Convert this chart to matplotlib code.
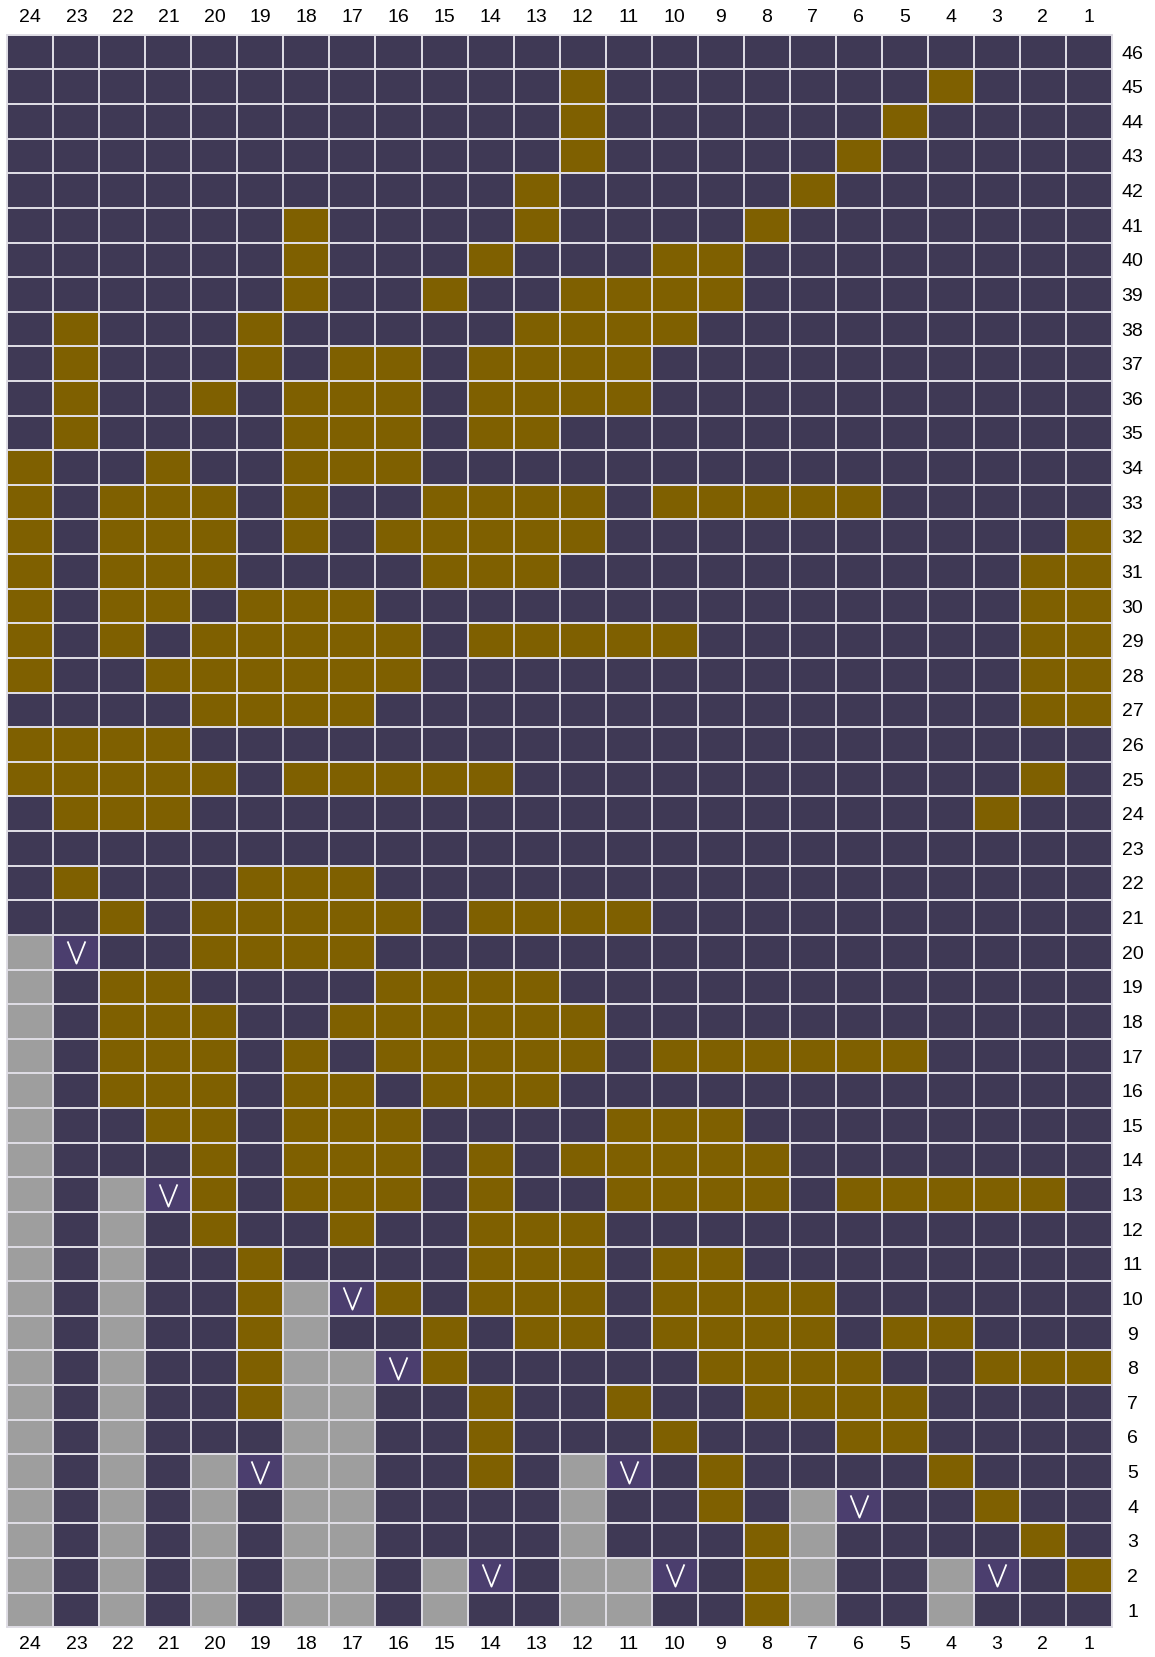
#!/usr/bin/env python3
"""Colourwork knitting chart: 24 stitches x 46 rows, gold motif on purple,
grey 'no stitch' columns with slip-stitch (V) markers."""

import numpy as np
import matplotlib

matplotlib.use('Agg')
import matplotlib.pyplot as plt
from matplotlib.colors import ListedColormap

N_COLS = 24
N_ROWS = 46
COLS = list(range(1, N_COLS + 1))
ROWS = list(range(1, N_ROWS + 1))

# gold (contrast) stitches per row, by stitch number
GOLD = {
    45: [12, 4], 44: [12, 5], 43: [12, 6], 42: [13, 7], 41: [18, 13, 8],
    40: [18, 14, 10, 9],
    39: [18, 15, 12, 11, 10, 9],
    38: [23, 19, 13, 12, 11, 10],
    37: [23, 19, 17, 16, 14, 13, 12, 11],
    36: [23, 20, 18, 17, 16, 14, 13, 12, 11],
    35: [23, 18, 17, 16, 14, 13],
    34: [24, 21, 18, 17, 16],
    33: [24, 22, 21, 20, 18, 15, 14, 13, 12, 10, 9, 8, 7, 6],
    32: [24, 22, 21, 20, 18, 16, 15, 14, 13, 12, 1],
    31: [24, 22, 21, 20, 15, 14, 13, 2, 1],
    30: [24, 22, 21, 19, 18, 17, 2, 1],
    29: [24, 22, 20, 19, 18, 17, 16, 14, 13, 12, 11, 10, 2, 1],
    28: [24, 21, 20, 19, 18, 17, 16, 2, 1],
    27: [20, 19, 18, 17, 2, 1],
    26: [24, 23, 22, 21],
    25: [24, 23, 22, 21, 20, 18, 17, 16, 15, 14, 2],
    24: [23, 22, 21, 3],
    22: [23, 19, 18, 17],
    21: [22, 20, 19, 18, 17, 16, 14, 13, 12, 11],
    20: [20, 19, 18, 17],
    19: [22, 21, 16, 15, 14, 13],
    18: [22, 21, 20, 17, 16, 15, 14, 13, 12],
    17: [22, 21, 20, 18, 16, 15, 14, 13, 12, 10, 9, 8, 7, 6, 5],
    16: [22, 21, 20, 18, 17, 15, 14, 13],
    15: [21, 20, 18, 17, 16, 11, 10, 9],
    14: [20, 18, 17, 16, 14, 12, 11, 10, 9, 8],
    13: [20, 18, 17, 16, 14, 11, 10, 9, 8, 6, 5, 4, 3, 2],
    12: [20, 17, 14, 13, 12],
    11: [19, 14, 13, 12, 10, 9],
    10: [19, 16, 14, 13, 12, 10, 9, 8, 7],
    9: [19, 15, 13, 12, 10, 9, 8, 7, 5, 4],
    8: [19, 15, 9, 8, 7, 6, 3, 2, 1],
    7: [19, 14, 11, 8, 7, 6, 5],
    6: [14, 10, 6, 5],
    5: [14, 9, 4],
    4: [9, 3],
    3: [8, 2],
    2: [8, 1],
    1: [8],
}

# grey "no stitch" columns: stitch number -> last row that is grey
NO_STITCH_TOP = {24: 20, 22: 13, 20: 5, 18: 10, 17: 8, 15: 2, 12: 5, 11: 2, 7: 4, 4: 2}

# slip stitches (stitch, row)
SLIP = [(23, 20), (21, 13), (17, 10), (16, 8), (19, 5), (11, 5), (6, 4), (14, 2), (10, 2), (3, 2)]

DARK, GOLDC, GREY, SLIPC = '#3f3955', '#7f6000', '#9e9e9e', '#4b3e6e'
LINE = '#dddbe3'
V_MARK = [(-0.8, 1), (0, -1), (0.8, 1)]


def main():
    grid = np.zeros((N_ROWS, N_COLS), dtype=int)
    for r, cols in GOLD.items():
        for c in cols:
            grid[r - 1, c - 1] = 1
    for c, top in NO_STITCH_TOP.items():
        grid[:top, c - 1] = 2
    for c, r in SLIP:
        grid[r - 1, c - 1] = 3

    plt.rcParams['font.family'] = ['Liberation Sans', 'DejaVu Sans']
    fig = plt.figure(figsize=(11.55, 16.57), dpi=100)
    ax = fig.add_axes([0.0064, 0.0179, 0.9561, 0.9611])

    xe = np.arange(0.5, N_COLS + 1)
    ye = np.arange(0.5, N_ROWS + 1)
    ax.pcolormesh(xe, ye, grid, cmap=ListedColormap([DARK, GOLDC, GREY, SLIPC]),
                  vmin=-0.5, vmax=3.5, edgecolors=LINE, linewidth=1.3)
    sx, sy = zip(*SLIP)
    ax.plot(sx, sy, ls='none', marker=V_MARK, markersize=16, mfc='none',
            mec='white', mew=1.3, zorder=3)

    ax.set_xlim(N_COLS + 0.5, 0.5)
    ax.set_ylim(0.5, N_ROWS + 0.5)
    ax.set_xticks(COLS)
    ax.set_yticks(ROWS)
    ax.tick_params(axis='x', top=True, labeltop=True, bottom=True, labelbottom=True,
                   length=0, pad=6, labelsize=14)
    ax.tick_params(axis='y', left=False, labelleft=False, right=True, labelright=True,
                   length=0, pad=15, labelsize=14)
    for lab in ax.get_yticklabels():
        lab.set_ha('center')
    for s in ax.spines.values():
        s.set_color(LINE)
        s.set_linewidth(1.3)

    fig.savefig('out.png', dpi=100)
    plt.close(fig)


if __name__ == '__main__':
    main()
